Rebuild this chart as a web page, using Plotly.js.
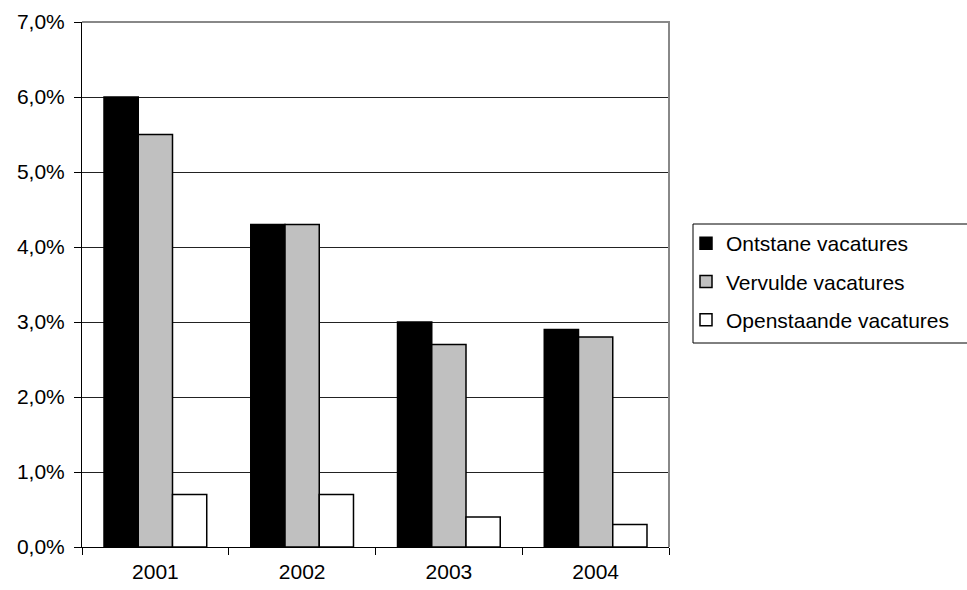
<!DOCTYPE html>
<html>
<head>
<meta charset="utf-8">
<script src="https://cdn.plot.ly/plotly-3.0.1.min.js"></script>
<style>body{margin:0;background:#fff}#chart{width:967px;height:590px}</style>
</head>
<body>
<div id="chart"></div>
<script>
const categories = ['2001', '2002', '2003', '2004'];
const seriesNames = ['Ontstane vacatures', 'Vervulde vacatures', 'Openstaande vacatures'];
const ontstane = [0.060, 0.043, 0.030, 0.029];
const vervulde = [0.055, 0.043, 0.027, 0.028];
const openstaande = [0.007, 0.007, 0.004, 0.003];
const yTicks = [0, 0.01, 0.02, 0.03, 0.04, 0.05, 0.06, 0.07];
const yTickLabels = ['0,0%', '1,0%', '2,0%', '3,0%', '4,0%', '5,0%', '6,0%', '7,0%'];

const fills = ['#000000', '#c0c0c0', '#ffffff'];
const values = [ontstane, vervulde, openstaande];
const FONT = 'Liberation Sans, Arial, sans-serif';
const FS = 21;

const traces = values.map((v, i) => ({
  type: 'bar',
  name: seriesNames[i],
  x: categories,
  y: v,
  legendgroup: 'g' + i,
  marker: {color: fills[i], line: {color: '#000', width: 1.5}},
  hoverinfo: 'skip'
}));

// plot area: x 82..669, y 22..547
const px = x => (x - 82) / (669 - 82);
const py = y => (547 - y) / (547 - 22);

const layout = {
  width: 967, height: 590,
  margin: {l: 82, r: 298, t: 22, b: 43},
  paper_bgcolor: '#fff', plot_bgcolor: '#fff',
  font: {family: FONT, size: FS, color: '#000'},
  barmode: 'group', bargap: 0.3, bargroupgap: 0,
  showlegend: true,
  legend: {
    x: px(686), xanchor: 'left', y: py(223), yanchor: 'top',
    borderwidth: 0, bgcolor: 'rgba(0,0,0,0)',
    traceorder: 'grouped', tracegroupgap: 8,
    font: {family: FONT, size: FS, color: '#000'}
  },
  xaxis: {
    type: 'category', tickson: 'boundaries', ticks: 'outside', ticklen: 7,
    tickcolor: '#000', showline: true, linecolor: '#000', linewidth: 1,
    showgrid: false, zeroline: false, fixedrange: true,
    ticklabelstandoff: 6,
    tickfont: {family: FONT, size: FS, color: '#000'}
  },
  yaxis: {
    range: [0, 0.07], tickvals: yTicks, ticktext: yTickLabels,
    ticks: 'outside', ticklen: 7, tickcolor: '#000',
    showline: true, linecolor: '#000', linewidth: 1,
    showgrid: true, gridcolor: '#222', gridwidth: 1, zeroline: false,
    fixedrange: true, ticklabelstandoff: 5,
    tickfont: {family: FONT, size: FS, color: '#000'}
  },
  shapes: [{
    type: 'path', xref: 'paper', yref: 'paper',
    path: 'M 0 1 L 1 1 L 1 0',
    line: {color: '#888', width: 2}, layer: 'above'
  }, {
    type: 'rect', xref: 'paper', yref: 'paper',
    x0: px(693), x1: px(980), y0: py(343), y1: py(224),
    line: {color: '#000', width: 1}, fillcolor: 'rgba(0,0,0,0)', layer: 'above'
  }]
};

Plotly.newPlot('chart', traces, layout, {displayModeBar: false, staticPlot: true});
</script>
</body>
</html>
